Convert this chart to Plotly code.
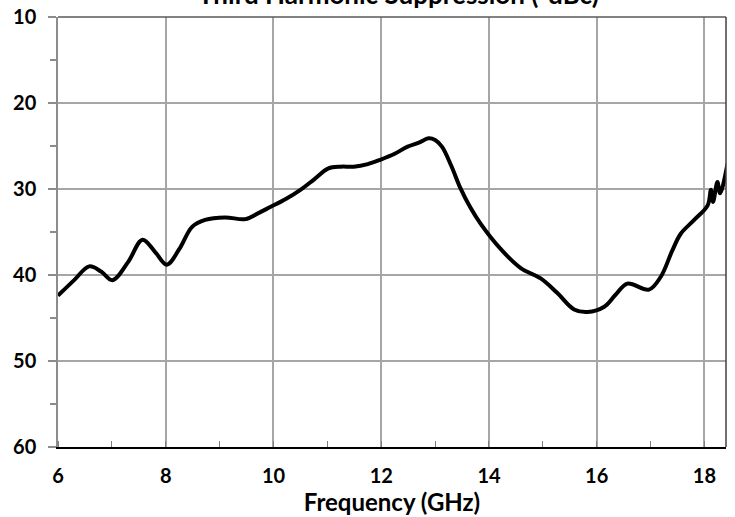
import plotly.graph_objects as go

freq_ghz = [6.0, 6.3, 6.58, 6.8, 7.01, 7.3, 7.57, 7.8, 8.02, 8.25, 8.49, 8.73, 9.1, 9.48,
            9.72, 9.94, 10.22, 10.5, 10.75, 11.02, 11.25, 11.49, 11.75, 11.98, 12.25, 12.48,
            12.7, 12.88, 13.0, 13.13, 13.3, 13.47, 13.65, 13.84, 14.22, 14.59, 14.96, 15.27,
            15.58, 15.83, 16.14, 16.35, 16.57, 16.97, 17.19, 17.4, 17.56, 17.81, 18.06, 18.12,
            18.16, 18.24, 18.29, 18.43]
suppression_dbc = [42.4, 40.6, 39.0, 39.6, 40.6, 38.5, 35.9, 37.3, 38.8, 37.0, 34.4, 33.6, 33.3, 33.5,
                   32.8, 32.1, 31.2, 30.1, 28.9, 27.6, 27.4, 27.4, 27.1, 26.6, 25.9, 25.1,
                   24.6, 24.1, 24.3, 25.1, 27.3, 29.9, 32.1, 34.0, 37.0, 39.2, 40.4, 42.1,
                   44.0, 44.3, 43.7, 42.3, 41.0, 41.7, 40.2, 37.2, 35.2, 33.6, 31.9, 30.1,
                   31.5, 29.2, 30.5, 27.0]

x_ticks = [6, 8, 10, 12, 14, 16, 18]
y_ticks = [10, 20, 30, 40, 50, 60]
title_text = "Third Harmonic Suppression (-dBc)"
x_title = "Frequency (GHz)"

FONT = "Lato"

fig = go.Figure()
fig.add_trace(go.Scatter(
    x=freq_ghz, y=suppression_dbc, mode="lines",
    line=dict(color="black", width=4, shape="spline", smoothing=1.0),
    showlegend=False, hoverinfo="skip"))

fig.update_layout(
    width=735, height=517,
    margin=dict(l=58, r=9, t=17, b=70, autoexpand=False),
    paper_bgcolor="white", plot_bgcolor="white",
    font=dict(family=FONT, color="black"),
    showlegend=False,
)

fig.update_xaxes(
    range=[6, 18.4], tickvals=x_ticks, ticktext=[str(v) for v in x_ticks],
    showgrid=True, gridcolor="#A6A6A6", gridwidth=1.5,
    showline=True, linecolor="black", linewidth=1.5,
    ticks="", ticklabelstandoff=10, automargin=False,
    minor=dict(dtick=1, tick0=6, ticks="inside", ticklen=6, tickcolor="#7F7F7F", showgrid=False),
    tickfont=dict(family=FONT, size=20, color="black", weight="bold"),
    title=dict(text=x_title, font=dict(family=FONT, size=24, color="black", weight="bold"), standoff=2),
    zeroline=False,
)
fig.update_yaxes(
    range=[60, 10], tickvals=y_ticks, ticktext=[str(v) for v in y_ticks],
    showgrid=True, gridcolor="#A6A6A6", gridwidth=1.5,
    showline=True, linecolor="#8C8C8C", linewidth=1.5,
    ticks="outside", ticklen=8, tickcolor="#8C8C8C", tickwidth=1.5,
    ticklabelstandoff=8, automargin=False,
    minor=dict(dtick=5, tick0=5, ticks="outside", ticklen=6, tickcolor="#8C8C8C", showgrid=False),
    tickfont=dict(family=FONT, size=20, color="black", weight="bold"),
    zeroline=False,
)

fig.add_shape(type="line", xref="paper", yref="paper", x0=0, x1=1, y0=1, y1=1,
              line=dict(color="#595959", width=1.5))
fig.add_shape(type="line", xref="paper", yref="paper", x0=1, x1=1, y0=0, y1=1,
              line=dict(color="#404040", width=1.5))

fig.add_annotation(text=title_text, xref="paper", yref="paper", x=(398 - 58) / (726 - 58), y=1.0,
                   xanchor="center", yshift=5, yanchor="bottom", showarrow=False,
                   font=dict(family=FONT, size=26, color="black", weight="bold"))

fig.write_html("out.html", config={"displayModeBar": False},
               post_script="document.body.style.margin='0';")
